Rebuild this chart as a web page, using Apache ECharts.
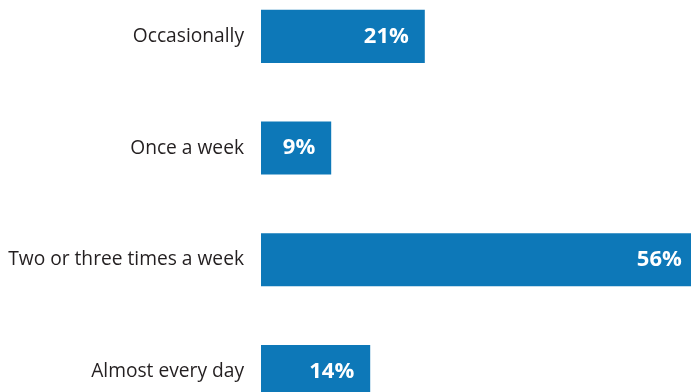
<!DOCTYPE html>
<html><head><meta charset="utf-8">
<script src="https://cdn.jsdelivr.net/npm/echarts@6/dist/echarts.min.js"></script>
<style>html,body{margin:0;padding:0;overflow:hidden;width:691px;height:392px;background:#fff}
#c{position:absolute;left:0;top:-40px;width:760px;height:500px}</style>
</head><body><div id="c"></div>
<script>
const categories = ["Occasionally", "Once a week", "Two or three times a week", "Almost every day"];
const values = [21, 9, 56, 14];
const chart = echarts.init(document.getElementById('c'), null, {renderer:'canvas'});
chart.setOption({
  animation:false,
  grid:{left:261, top:20.5, width:468, height:446.8, containLabel:false},
  xAxis:{type:'value', min:0, max:60, show:false},
  yAxis:{type:'category', data:categories, inverse:true,
    axisLine:{show:false}, axisTick:{show:false},
    axisLabel:{margin:17, color:'#231f20', fontSize:19.2, fontFamily:'Open Sans'}},
  series:[{type:'bar', data:values, barCategoryGap:'52.5%',
    itemStyle:{color:'#0d78b8'},
    label:{show:true, position:'insideRight', distance:16, color:'#fff', fontWeight:'bold', fontSize:22, fontFamily:'Open Sans', formatter:'{c}%'}}]
});
</script></body></html>
